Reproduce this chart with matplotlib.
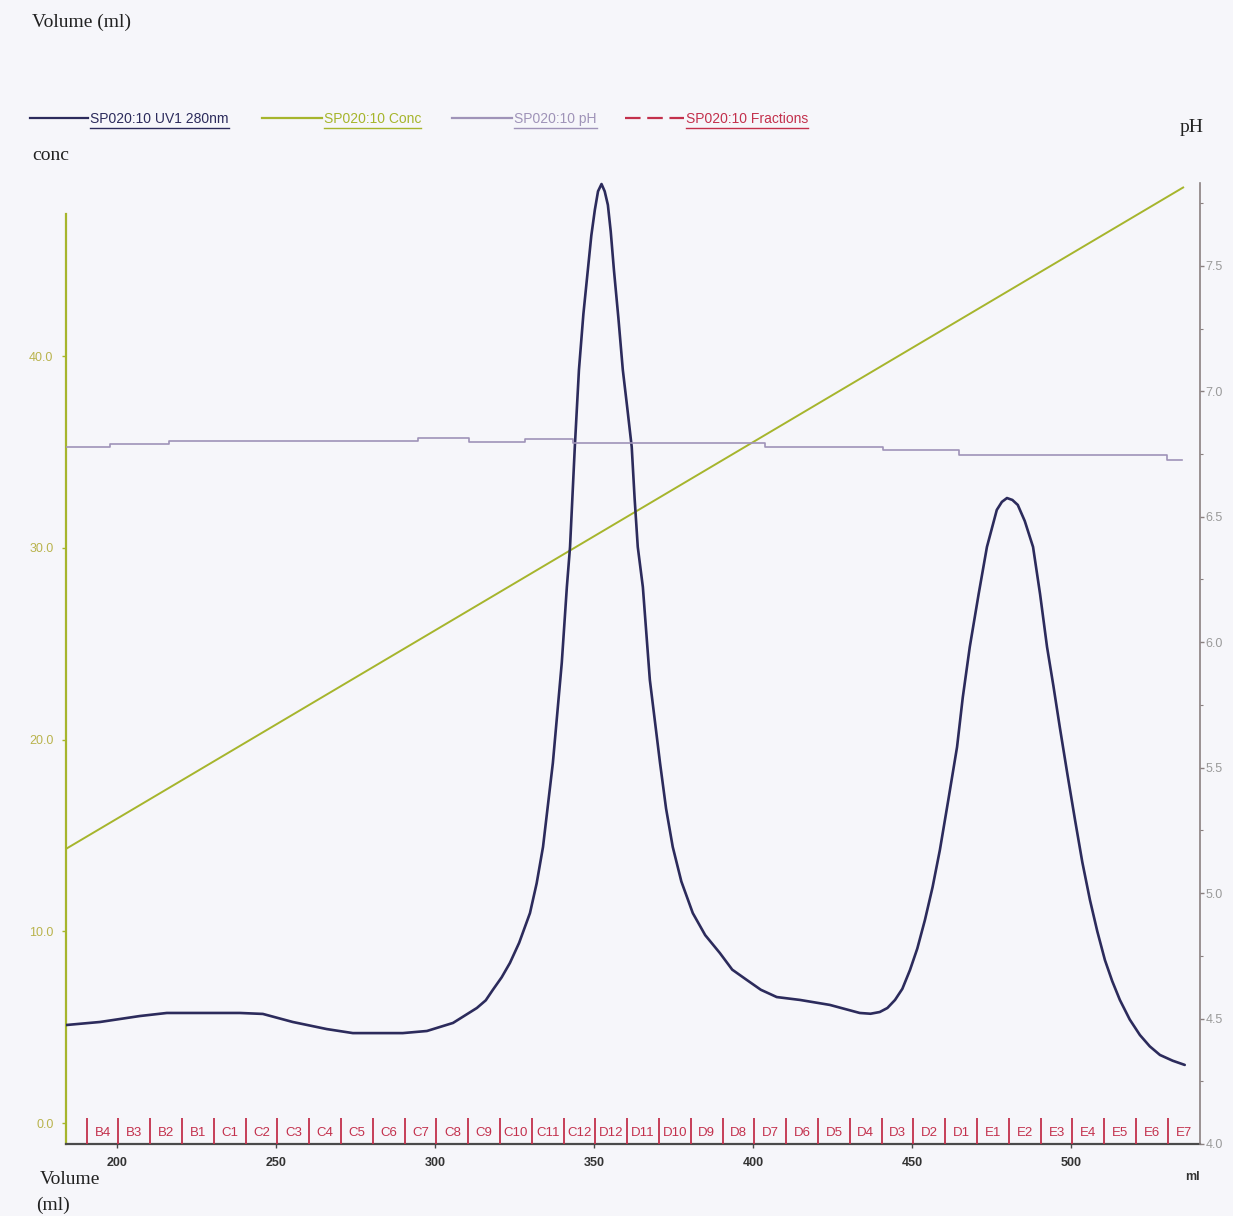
import matplotlib
matplotlib.use("Agg")
import matplotlib.pyplot as plt
from matplotlib.lines import Line2D
import matplotlib.transforms as mtransforms

# --- run data -------------------------------------------------------------
# UV1 280nm trace, drawn against the conc scale
uv_ml = [184.0, 194.7, 207.2, 215.7, 238.7, 245.9, 255.3, 266.0, 274.2, 289.9,
         297.5, 305.7, 313.2, 316.0, 318.2, 321.0, 323.6, 326.5, 329.9, 332.0,
         334.0, 337.1, 339.9, 341.5, 342.5, 344.0, 345.3, 346.7, 348.1, 349.2,
         350.3, 351.3, 352.4, 353.4, 354.4, 355.3, 356.3, 357.7, 359.1, 360.5,
         361.9, 362.8, 363.8, 365.4, 367.6, 370.8, 372.7, 374.8, 377.5, 381.1,
         385.0, 389.6, 393.5, 398.1, 402.5, 407.5, 414.8, 424.2, 433.6, 437.0,
         439.9, 442.3, 444.7, 447.0, 449.4, 451.7, 454.1, 456.5, 458.8, 461.5,
         464.2, 466.0, 468.2, 471.0, 473.6, 476.7, 478.3, 479.9, 481.6, 483.3,
         485.5, 488.1, 490.3, 492.5, 494.5, 496.5, 498.9, 501.3, 503.6, 506.0,
         508.3, 510.7, 513.0, 515.4, 518.5, 521.7, 524.8, 528.0, 532.0, 535.8]
uv_val = [5.11, 5.27, 5.58, 5.74, 5.74, 5.69, 5.27, 4.90, 4.69, 4.69,
          4.80, 5.22, 6.00, 6.40, 6.94, 7.60, 8.35, 9.40, 10.95, 12.50,
          14.40, 18.78, 24.00, 27.96, 30.05, 35.26, 39.28, 42.20, 44.50, 46.30,
          47.63, 48.60, 48.98, 48.60, 47.89, 46.50, 44.50, 42.00, 39.28, 37.30,
          35.26, 32.60, 30.05, 27.96, 23.11, 18.78, 16.40, 14.40, 12.60, 10.95,
          9.80, 8.87, 8.00, 7.46, 6.95, 6.57, 6.42, 6.16, 5.74, 5.70,
          5.79, 6.00, 6.42, 7.00, 7.98, 9.10, 10.59, 12.30, 14.24, 16.90,
          19.61, 22.20, 24.83, 27.60, 30.05, 31.98, 32.40, 32.60, 32.50, 32.24,
          31.40, 30.05, 27.60, 24.83, 22.80, 20.66, 18.20, 15.81, 13.60, 11.63,
          10.00, 8.50, 7.40, 6.42, 5.40, 4.59, 4.00, 3.55, 3.25, 3.03]

# salt gradient
conc_ml = [184.0, 535.3]
conc_val = [14.3, 48.8]

# pH readings (step changes)
ph_ml = [184.0, 197.8, 216.4, 294.7, 310.7, 328.3, 343.4, 403.8, 440.9, 464.8, 530.2, 535.0]
ph_val = [6.778, 6.790, 6.802, 6.814, 6.798, 6.810, 6.794, 6.778, 6.766, 6.746, 6.726, 6.726]

# fraction collector marks (start volume of each tube)
frac_ml = [190.5, 200.5, 210.5, 220.5, 230.5, 240.5, 250.5, 260.5, 270.5, 280.5,
           290.5, 300.5, 310.5, 320.5, 330.5, 340.5, 350.5, 360.5, 370.5, 380.5,
           390.5, 400.5, 410.5, 420.5, 430.5, 440.5, 450.5, 460.5, 470.5, 480.5,
           490.5, 500.5, 510.5, 520.5, 530.5]
frac_labels = ["B4", "B3", "B2", "B1", "C1", "C2", "C3", "C4", "C5", "C6",
               "C7", "C8", "C9", "C10", "C11", "C12", "D12", "D11", "D10", "D9",
               "D8", "D7", "D6", "D5", "D4", "D3", "D2", "D1", "E1", "E2",
               "E3", "E4", "E5", "E6", "E7"]
frac_width = 10.0

conc_ticks = [0, 10, 20, 30, 40]
ph_ticks = [4.0, 4.5, 5.0, 5.5, 6.0, 6.5, 7.0, 7.5]
ph_minor = [4.25, 4.75, 5.25, 5.75, 6.25, 6.75, 7.25, 7.75]
ml_ticks = [200, 250, 300, 350, 400, 450, 500]

# --- colours / fonts ------------------------------------------------------
C_UV = "#2c2b5c"
C_CONC = "#a6b52c"
C_CONC_TXT = "#b9b34c"
C_PH = "#9f93b8"
C_PH_AX = "#8a8080"
C_FRAC = "#c3304c"
BG = "#f6f6fa"
NARROW = ["Liberation Sans Narrow", "Liberation Sans", "DejaVu Sans"]
SERIF = ["Liberation Serif", "DejaVu Serif"]

W, H = 1233, 1216
fig = plt.figure(figsize=(W / 100, H / 100), dpi=100, facecolor=BG)


def fx(px):
    return px / W


def fy(py):
    return 1 - py / H


ax_left, ax_right, ax_top, ax_bot = 66, 1200, 180, 1144
ax = fig.add_axes([fx(ax_left), fy(ax_bot), fx(ax_right - ax_left), (ax_bot - ax_top) / H])
ax.set_facecolor("none")
ax.set_xlim(184.0, 540.6)
ax.set_ylim(-1.095, 49.19)

axp = ax.twinx()
axp.set_ylim(4.0, 7.842)

# traces
ax.plot(conc_ml, conc_val, color=C_CONC, lw=1.4, zorder=3)
axp.plot(ph_ml, ph_val, color=C_PH, lw=1.2, drawstyle="steps-post", zorder=2)
ax.plot(uv_ml, uv_val, color=C_UV, lw=1.9, zorder=4,
        solid_joinstyle="round", solid_capstyle="round")

# fraction marks along the volume axis
trans = mtransforms.blended_transform_factory(ax.transData, ax.transAxes)
ax.vlines(frac_ml, 0, 0.027, colors=C_FRAC, lw=1.3, transform=trans, zorder=5)
for v, lab in zip(frac_ml, frac_labels):
    ax.text(v + frac_width / 2, 0.011, lab, transform=trans, ha="center", va="center",
            color=C_FRAC, fontsize=9.5, family=NARROW)

# spines
ax.spines["top"].set_visible(False)
axp.spines["top"].set_visible(False)
axp.spines["left"].set_visible(False)
axp.spines["bottom"].set_visible(False)
ax.spines["right"].set_visible(False)

ax.spines["left"].set_color(C_CONC)
ax.spines["left"].set_linewidth(1.6)
ax.spines["left"].set_bounds(-1.095, 47.4)
ax.spines["bottom"].set_color("#4a4a4a")
ax.spines["bottom"].set_linewidth(1.6)
axp.spines["right"].set_color(C_PH_AX)
axp.spines["right"].set_linewidth(1.2)
axp.spines["right"].set_bounds(4.0, 7.83)

ax.set_yticks(conc_ticks)
ax.set_yticklabels([f"{t:.1f}" for t in conc_ticks], color=C_CONC_TXT, fontsize=9, family=NARROW)
ax.tick_params(axis="y", colors=C_CONC, labelcolor=C_CONC_TXT, length=3, width=1, pad=6)

ax.set_xticks(ml_ticks)
ax.set_xticklabels([str(t) for t in ml_ticks], fontsize=9, family=NARROW,
                   fontweight="bold", color="#333333")
ax.tick_params(axis="x", colors="#4a4a4a", labelcolor="#333333", length=3, width=1, pad=6)

axp.set_yticks(ph_ticks)
axp.set_yticks(ph_minor, minor=True)
axp.set_yticklabels([f"{t:.1f}" for t in ph_ticks], fontsize=9, family=NARROW, color="#9a9a9a")
axp.tick_params(axis="y", which="major", colors=C_PH_AX, labelcolor="#9a9a9a", length=3, width=1, pad=1)
axp.tick_params(axis="y", which="minor", colors=C_PH_AX, length=2, width=0.8)

ax.text(1.0, -0.028, "ml", transform=ax.transAxes, ha="right", va="top",
        fontsize=9, family=NARROW, fontweight="bold", color="#333333")
ax.set_xlim(184.0, 540.6)

# axis titles
title_kw = dict(fontsize=14, family=SERIF, va="center", ha="left", color="#222222")
fig.text(fx(32), fy(22), "Volume (ml)", **title_kw)
fig.text(fx(32), fy(155), "conc", **title_kw)
fig.text(fx(1180), fy(128), "pH", **title_kw)
fig.text(fx(40), fy(1180), "Volume", **title_kw)
fig.text(fx(36), fy(1205), "(ml)", **title_kw)

# legend row
legend_items = [
    (30, 88, "SP020:10 UV1 280nm", C_UV, "-"),
    (262, 322, "SP020:10 Conc", C_CONC, "-"),
    (452, 512, "SP020:10 pH", C_PH, "-"),
    (625, 684, "SP020:10 Fractions", C_FRAC, (0, (7, 3))),
]
legend_y = 118
renderer = fig.canvas.get_renderer()
for x0, x1, label, col, ls in legend_items:
    fig.add_artist(Line2D([fx(x0), fx(x1)], [fy(legend_y), fy(legend_y)], color=col,
                          lw=1.6, linestyle=ls, transform=fig.transFigure))
    t = fig.text(fx(x1 + 2), fy(legend_y + 1), label, fontsize=10, family=NARROW,
                 color=col, ha="left", va="center")
    bb = t.get_window_extent(renderer).transformed(fig.transFigure.inverted())
    fig.add_artist(Line2D([bb.x0, bb.x1], [bb.y0 - 0.002, bb.y0 - 0.002], color=col,
                          lw=1.0, transform=fig.transFigure))

fig.savefig("out.png", dpi=100, facecolor=fig.get_facecolor())
